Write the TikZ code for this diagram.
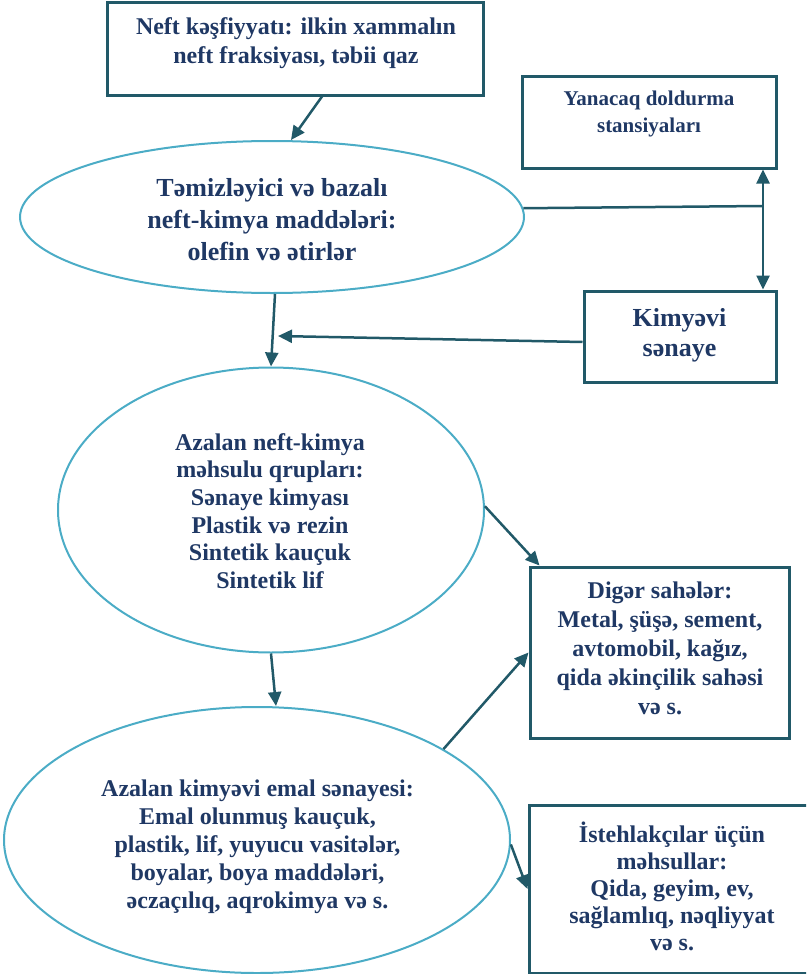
\documentclass[tikz,border=0pt]{standalone}
\usepackage{fontspec}
\setmainfont{Liberation Serif}
\usetikzlibrary{arrows.meta,shapes.geometric}
\definecolor{txtc}{HTML}{1F3864}
\definecolor{boxc}{HTML}{215968}
\definecolor{ellc}{HTML}{4BACC6}
\tikzset{
  boxnode/.style={draw=boxc, line width=3pt, rectangle, inner sep=0pt},
  ellnode/.style={draw=ellc, line width=2pt, ellipse, inner sep=0pt},
  txt/.style={text=txtc, align=center, inner sep=0pt},
  arr/.style={draw=boxc, line width=2.5pt, -{Triangle[width=13pt,length=14pt]}},
  plainline/.style={draw=boxc, line width=2.5pt}
}
\begin{document}
\begin{tikzpicture}[x=1pt,y=-1pt]
\useasboundingbox (0,0) rectangle (806,974);
\clip (0,0) rectangle (806,974);
% boxes
\node[boxnode, minimum width=376pt, minimum height=92pt] (top) at (295,49) {};
\node[boxnode, minimum width=254pt, minimum height=92pt] (yan) at (649,122) {};
\node[boxnode, minimum width=192pt, minimum height=91pt] (kim) at (680,336.5) {};
\node[boxnode, minimum width=259pt, minimum height=171pt] (dig) at (659.5,652.5) {};
\node[boxnode, minimum width=286pt, minimum height=168pt] (ist) at (672,889) {};
% ellipses
\node[ellnode, minimum width=504pt, minimum height=152pt] (e1) at (272,217) {};
\node[ellnode, minimum width=426pt, minimum height=285pt] (e2) at (271,510) {};
\node[ellnode, minimum width=506pt, minimum height=266pt] (e3) at (257,840) {};
% texts
\node[txt, font=\fontsize{24}{29}\selectfont\bfseries] (ttop) at (296,43.5) {Neft kəşfiyyatı: ilkin xammalın\\neft fraksiyası, təbii qaz};
\node[txt, font=\fontsize{21}{27}\selectfont\bfseries] (tyan) at (649,113.5) {Yanacaq doldurma\\stansiyaları};
\node[txt, font=\fontsize{26}{32}\selectfont\bfseries] (te1) at (272,220) {Təmizləyici və bazalı\\neft-kimya maddələri:\\olefin və ətirlər};
\node[txt, font=\fontsize{26}{30}\selectfont\bfseries] (tkim) at (679.5,335) {Kimyəvi\\sənaye};
\node[txt, font=\fontsize{24}{27.6}\selectfont\bfseries] (te2) at (270,511) {Azalan neft-kimya\\məhsulu qrupları:\\Sənaye kimyası\\Plastik və rezin\\Sintetik kauçuk\\Sintetik lif};
\node[txt, font=\fontsize{24}{29}\selectfont\bfseries] (tdig) at (660,648.5) {Digər sahələr:\\Metal, şüşə, sement,\\avtomobil, kağız,\\qida əkinçilik sahəsi\\və s.};
\node[txt, font=\fontsize{24}{28}\selectfont\bfseries] (te3) at (257.5,846.5) {Azalan kimyəvi emal sənayesi:\\Emal olunmuş kauçuk,\\plastik, lif, yuyucu vasitələr,\\boyalar, boya maddələri,\\əczaçılıq, aqrokimya və s.};
\node[txt, font=\fontsize{24}{27}\selectfont\bfseries] (tist) at (672,886.5) {İstehlakçılar üçün\\məhsullar:\\Qida, geyim, ev,\\sağlamlıq, nəqliyyat\\və s.};
% connectors
\coordinate (j) at (763,206);
\coordinate (c1) at (278,336);
\draw[arr] ([xshift=27pt]top.south) -- ([xshift=19pt]e1.north);
\draw[plainline] (e1.2.5) -- (j);
\draw[arr] (j) -- (j |- yan.south);
\draw[arr] (j) -- (j |- kim.north);
\draw[arr] ([yshift=-5.5pt]kim.west) -- (c1);
\draw[arr] ([xshift=3pt]e1.south) -- (e2.north);
\draw[arr] (e2.south) -- ([xshift=19pt]e3.north);
\draw[arr] (e2.1.6) -- ([xshift=11pt]dig.north west);
\draw[arr] (e3.26.6) -- (dig.west);
\draw[arr] (e3.-1.1) -- (ist.west);
\end{tikzpicture}
\end{document}
